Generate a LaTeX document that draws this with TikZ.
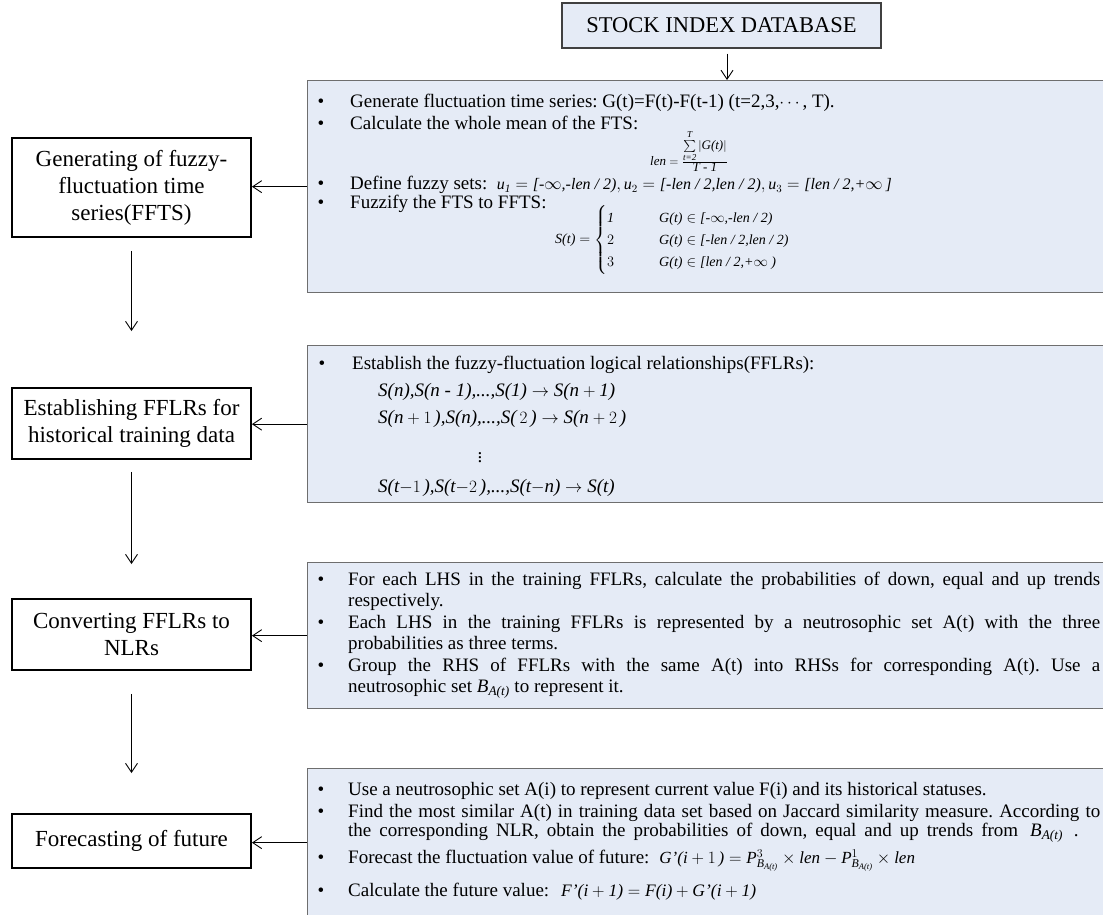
\documentclass[tikz,border=0pt]{standalone}
\usepackage{amsmath}
\usepackage{fontspec}
\setmainfont{Liberation Serif}
\usetikzlibrary{positioning, arrows.meta}
\definecolor{PaleBlue}{HTML}{E5EBF6}
\definecolor{EdgeGray}{HTML}{6E6E6E}
\newcommand{\bodysize}{\fontsize{19}{22}\selectfont}
\newcommand{\boxsize}{\fontsize{23}{27}\selectfont}
\frenchspacing
\tikzset{
  stepbox/.style={draw=black, line width=1.8pt, fill=white, align=center,
                  font=\boxsize, minimum width=239pt, inner sep=2pt},
  infobox/.style={draw=EdgeGray, line width=1.3pt, fill=PaleBlue,
                  anchor=north west, minimum width=800pt, inner sep=0pt},
  dbbox/.style={draw=black!75, line width=1.3pt, fill=PaleBlue,
                font=\fontsize{22.5}{26}\selectfont, minimum width=319pt,
                minimum height=45pt},
  bul/.style={anchor=base, font=\bodysize, inner sep=0pt},
  txt/.style={anchor=base west, font=\bodysize, inner sep=0pt},
  frm/.style={anchor=base west, font=\fontsize{17}{20}\selectfont, inner sep=0pt},
  arr/.style={-{Straight Barb[length=9pt,width=12pt]}, line width=0.9pt},
}

\begin{document}
\begin{tikzpicture}[x=1pt,y=-1pt]
  \useasboundingbox (0,0) rectangle (1103,914);
  \clip (0,0) rectangle (1103,914);

  % source
  \node[dbbox] (dbase) at (721.5,25.5) {STOCK INDEX DATABASE};

  % detail panels
  \node[infobox, minimum height=212pt] (fts) at (307,80) {};
  \node[infobox, minimum height=157pt] (flr) at (307,345) {};
  \node[infobox, minimum height=146pt] (nlr) at (307,562) {};
  \node[infobox, minimum height=148pt] (fut) at (307,768) {};

  % steps
  \node[stepbox, minimum height=99pt] (gen) at (131.5,187.5)
       {Generating of fuzzy-\\fluctuation time\\series(FFTS)};
  \node[stepbox, minimum height=71pt] (est) at (131.5,423.5)
       {Establishing FFLRs for\\historical training data};
  \node[stepbox, minimum height=71pt] (conv) at (131.5,634.5)
       {Converting FFLRs to\\NLRs};
  \node[stepbox, minimum height=54pt] (fore) at (131.5,841)
       {Forecasting of future};

  % connectors
  \coordinate (tap) at ([xshift=5.5pt]dbase.south);
  \draw[arr, shorten <=5pt] (tap) -- (tap |- fts.north);
  \draw[arr] (fts.west) -- (fts.west -| gen.east);
  \draw[arr] (flr.west) -- (flr.west -| est.east);
  \draw[arr] (nlr.west) -- (nlr.west -| conv.east);
  \draw[arr] (fut.west) -- (fut.west -| fore.east);
  \draw[arr, shorten <=13pt, shorten >=56pt] (gen.south) -- (est.north);
  \draw[arr, shorten <=12pt, shorten >=34pt] (est.south) -- (conv.north);
  \draw[arr, shorten <=23pt, shorten >=40pt] (conv.south) -- (fore.north);

  % panel 1: FFTS
  \foreach \y [count=\i] in {107.5,129.5,189.5,208.5}
    \node[bul] (fb\i) at (321,\y) {\textbullet};
  \node[txt] (g1) at (350,107.5)
       {Generate fluctuation time series: G(t)=F(t)-F(t-1) (t=2,3,$\cdots$, T).};
  \node[txt] (g2) at (350,129.5) {Calculate the whole mean of the FTS:};
  \node[frm, font=\fontsize{13}{16}\selectfont, anchor=west] (glen) at (650,151)
       {$\textit{len}=\frac{\textstyle\sum\limits_{\textit{t=2}}^{\textit{T}}\left|\textit{G(t)}\right|}{\textstyle\textit{T - 1}}$};
  \node[txt] (g3) at (350,189.5) {Define fuzzy sets:};
  \node[frm, font=\fontsize{16}{19}\selectfont, right=9pt of g3.base east, anchor=base west] (gu)
       {$\textit{u}_{\textit{1}}=\textit{[-}\infty\textit{,-len / 2)},\textit{u}_2=\textit{[-len / 2,len / 2)},\textit{u}_3=\textit{[len / 2,+}\infty\,\textit{]}$};
  \node[txt] (g4) at (350,208.5) {Fuzzify the FTS to FFTS:};
  \node[frm, font=\fontsize{14}{17}\selectfont, anchor=west] (gs) at (555,240)
       {\renewcommand{\arraystretch}{1.3}$\textit{S(t)}=\left\{\begin{array}{@{}l@{\hspace{45pt}}l@{}}
        \textit{1} & \textit{G(t)}\in\textit{[-}\infty\textit{,-len / 2)}\\
        2 & \textit{G(t)}\in\textit{[-len / 2,len / 2)}\\
        3 & \textit{G(t)}\in\textit{[len / 2,+}\infty\textit{ )}
        \end{array}\right.$};

  % panel 2: FFLRs
  \node[bul] (eb1) at (322,369.5) {\textbullet};
  \node[txt] (e1) at (352,369.5)
       {Establish the fuzzy-fluctuation logical relationships(FFLRs):};
  \node[txt] (e2) at (378,396)
       {$\textit{S(n),S(n - 1),...,S(1)}\rightarrow\textit{S(n}+\textit{1)}$};
  \node[txt] (e3) at (378,423)
       {$\textit{S(n}+1\,\textit{),S(n),...,S(}\,2\,\textit{)}\rightarrow\textit{S(n}+2\,\textit{)}$};
  \node[txt, anchor=center] (e4) at (480,455) {$\vdots$};
  \node[txt] (e5) at (378,492)
       {$\textit{S(t}{-}1\,\textit{),S(t}{-}2\,\textit{),...,S(t}{-}\textit{n)}\rightarrow\textit{S(t)}$};

  % panel 3: NLRs
  \foreach \y [count=\i] in {585.5,628.5,671.5}
    \node[bul] (nb\i) at (321,\y) {\textbullet};
  \node[txt] (n1) at (348,585.5)
       {\makebox[752pt][s]{For each LHS in the training FFLRs, calculate the probabilities of down, equal and up trends}};
  \node[txt] (n2) at (348,606.5) {respectively.};
  \node[txt] (n3) at (348,628.5)
       {\makebox[752pt][s]{Each LHS in the training FFLRs is represented by a neutrosophic set A(t) with the three}};
  \node[txt] (n4) at (348,649.5) {probabilities as three terms.};
  \node[txt] (n5) at (348,671.5)
       {\makebox[752pt][s]{Group the RHS of FFLRs with the same A(t) into RHSs for corresponding A(t). Use a}};
  \node[txt] (n6) at (348,692.5)
       {neutrosophic set $\textit{B}_{\textit{A(t)}}$ to represent it.};

  % panel 4: forecasting
  \foreach \y [count=\i] in {795.5,817.5,863.5,896.5}
    \node[bul] (ub\i) at (321,\y) {\textbullet};
  \node[txt] (f1) at (348,795.5)
       {Use a neutrosophic set A(i) to represent current value F(i) and its historical statuses.};
  \node[txt] (f2) at (348,817.5)
       {\makebox[752pt][s]{Find the most similar A(t) in training data set based on Jaccard similarity measure. According to}};
  \node[txt] (f3) at (348,836.5)
       {\makebox[670pt][s]{the corresponding NLR, obtain the probabilities of down, equal and up trends from}\hspace{12pt}$\textit{B}_{\textit{A(t)}}$\hspace{11pt}.};
  \node[txt] (f4) at (348,863.5)
       {Forecast the fluctuation value of future:\hspace{10pt}{\fontsize{17}{20}\selectfont$\textit{G'(i}+1\,\textit{)}=\textit{P}^{3}_{\textit{B}_{\textit{A(t)}}}\times\textit{len}-\textit{P}^{1}_{\textit{B}_{\textit{A(t)}}}\times\textit{len}$}};
  \node[txt] (f5) at (348,896.5)
       {Calculate the future value:\hspace{12pt}{\fontsize{17.5}{20}\selectfont$\textit{F'(i}+\textit{1)}=\textit{F(i)}+\textit{G'(i}+\textit{1)}$}};
\end{tikzpicture}
\end{document}
